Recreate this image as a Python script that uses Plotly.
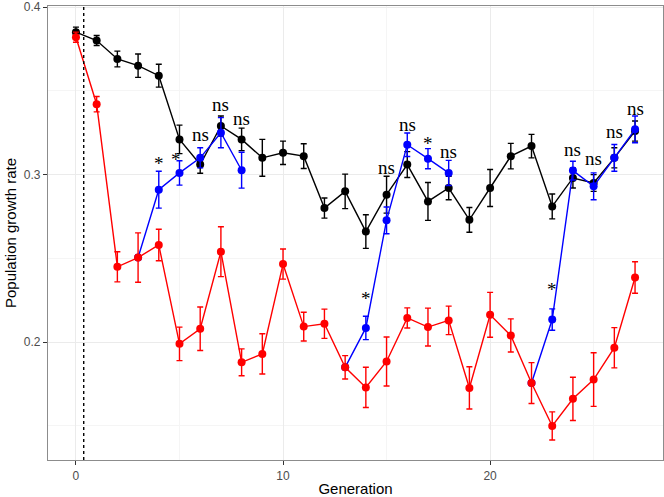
import plotly.graph_objects as go

generation = list(range(28))

black_mean = [0.385, 0.380, 0.369, 0.365, 0.359, 0.321, 0.306, 0.329, 0.321, 0.310,
              0.313, 0.311, 0.280, 0.290, 0.266, 0.288, 0.306, 0.284, 0.292, 0.273,
              0.292, 0.311, 0.317, 0.281, 0.298, 0.295, 0.310, 0.326]
black_se = [0.003, 0.003, 0.0047, 0.007, 0.0068, 0.0085, 0.0052, 0.006, 0.0067, 0.011,
            0.007, 0.0074, 0.006, 0.0103, 0.010, 0.011, 0.0077, 0.0113, 0.007, 0.0074,
            0.011, 0.0076, 0.007, 0.0074, 0.006, 0.005, 0.006, 0.006]

red_mean = [0.382, 0.342, 0.245, 0.2505, 0.258, 0.199, 0.208, 0.254, 0.188, 0.193,
            0.2466, 0.2093, 0.211, 0.185, 0.173, 0.1885, 0.2145, 0.209, 0.213, 0.1727,
            0.2163, 0.204, 0.1756, 0.150, 0.1662, 0.1777, 0.1967, 0.2386]
red_se = [0.003, 0.0046, 0.009, 0.0147, 0.0094, 0.010, 0.013, 0.0149, 0.008, 0.012,
          0.009, 0.0086, 0.0087, 0.007, 0.012, 0.0146, 0.006, 0.0113, 0.0085, 0.0126,
          0.0134, 0.0099, 0.0122, 0.0084, 0.0129, 0.016, 0.012, 0.0094]

# blue (rescue) lines start from the red point at generations 3, 13 and 22
blue_mean = [None, None, None, 0.2505, 0.291, 0.301, 0.310, 0.325, 0.3026, None,
             None, None, None, 0.185, 0.2085, 0.2727, 0.3178, 0.3095, 0.301, None,
             None, None, 0.1756, 0.2135, 0.3024, 0.293, 0.310, 0.327]
blue_se = [None, None, None, 0, 0.011, 0.0073, 0.006, 0.009, 0.0107, None,
           None, None, None, 0, 0.007, 0.008, 0.007, 0.006, 0.0075, None,
           None, None, 0, 0.0064, 0.0056, 0.008, 0.008, 0.008]

# significance labels (generation, text, value at which the label sits)
sig_gen = [4, 5, 6, 7, 8, 14, 15, 16, 17, 18, 23, 24, 25, 26, 27]
sig_label = ["*", "*", "ns", "ns", "ns", "*", "ns", "ns", "*", "ns", "*", "ns", "ns", "ns", "ns"]
sig_y = [0.3069, 0.309, 0.324, 0.3418, 0.3337, 0.2259, 0.304, 0.330, 0.3188, 0.3139,
         0.2313, 0.3152, 0.3099, 0.3257, 0.3396]

vline_x = 0.375
x_range = [-1.35, 28.35]
y_range = [0.1297, 0.4006]

fig = go.Figure()

def add_series(y, se, color):
    fig.add_trace(go.Scatter(
        x=generation, y=y, mode="lines+markers",
        line=dict(color=color, width=1.4),
        marker=dict(color=color, size=8),
        error_y=dict(type="data", array=se, color=color, thickness=1.4, width=3),
        connectgaps=False, showlegend=False, cliponaxis=False, hoverinfo="skip"))

add_series(black_mean, black_se, "#000000")
add_series(blue_mean, blue_se, "#0000FF")
add_series(red_mean, red_se, "#FF0000")

fig.add_shape(type="line", x0=vline_x, x1=vline_x, y0=0, y1=1, xref="x", yref="paper",
              line=dict(color="black", width=1.4, dash="dot"))

for g, lab, yv in zip(sig_gen, sig_label, sig_y):
    fig.add_annotation(x=g, y=yv, text=lab, showarrow=False,
                       yanchor="middle", xanchor="center",
                       xshift=-3 if g == 5 else 0,
                       font=dict(family="Liberation Serif", size=19, color="black"))

axis_common = dict(
    showgrid=True, gridcolor="#EBEBEB", gridwidth=1,
    showline=True, linecolor="#8C8C8C", linewidth=1.2, mirror=True,
    ticks="outside", ticklen=4, tickcolor="#333333", tickwidth=1,
    tickfont=dict(family="Liberation Sans", size=12, color="#4D4D4D"),
    zeroline=False, automargin=False, ticklabeloverflow="allow",
)

fig.update_xaxes(range=x_range, tickmode="array", tickvals=[0, 10, 20],
                 minor=dict(tickvals=[5, 15, 25], showgrid=True, gridcolor="#F5F5F5", gridwidth=1, ticks=""),
                 title=dict(text="Generation", font=dict(family="Liberation Sans", size=15, color="black"), standoff=6),
                 **axis_common)
fig.update_yaxes(range=y_range, tickmode="array", tickvals=[0.2, 0.3, 0.4], ticktext=["0.2", "0.3", "0.4"],
                 minor=dict(tickvals=[0.15, 0.25, 0.35], showgrid=True, gridcolor="#F5F5F5", gridwidth=1, ticks=""),
                 title=dict(text="Population growth rate", font=dict(family="Liberation Sans", size=15, color="black"), standoff=3),
                 **axis_common)

fig.update_layout(
    width=664, height=497,
    margin=dict(l=48, r=1, t=6, b=37),
    plot_bgcolor="white", paper_bgcolor="white",
    hovermode=False,
)

fig.write_html("out.html", config={"displayModeBar": False},
               post_script="document.body.style.margin='0';document.body.style.overflow='hidden';document.documentElement.style.overflow='hidden';")
